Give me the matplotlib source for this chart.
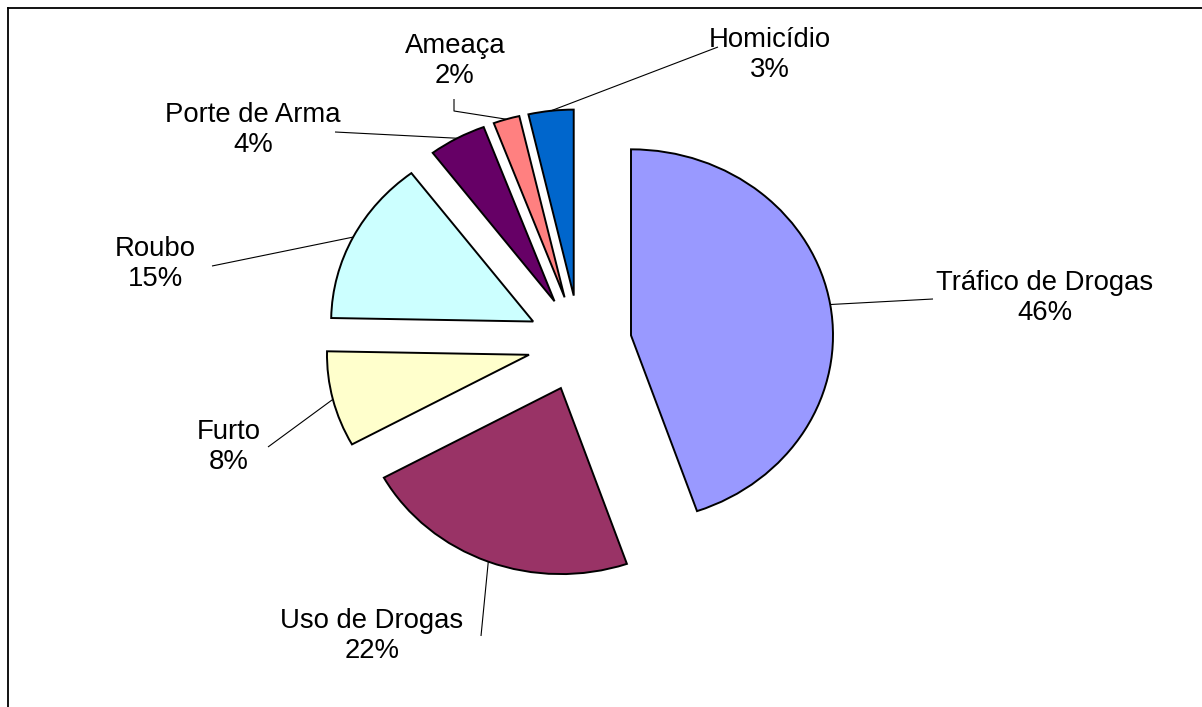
import matplotlib
matplotlib.use("Agg")
import matplotlib.pyplot as plt
from matplotlib.lines import Line2D
import numpy as np

# ---- data ----
categories = ["Tráfico de Drogas", "Uso de Drogas", "Furto", "Roubo",
              "Porte de Arma", "Ameaça", "Homicídio"]
shares = [44.7, 22.3, 8.3, 14.4, 4.6, 2.1, 3.6]      # wedge sizes as drawn
pct_labels = [46, 22, 8, 15, 4, 2, 3]                # percentages printed
colors = ["#9999FF", "#993366", "#FFFFCC", "#CCFFFF",
          "#660066", "#FF8080", "#0066CC"]

# ---- layout ----
W, H = 1202, 707
fig = plt.figure(figsize=(W / 100, H / 100), dpi=100)
ax = fig.add_axes([0, 0, 1, 1])
cx, cy = 579.6, 343.3     # pie centre in pixels (from top-left)
rx, ry = 202.0, 186.0     # pixel radii (pie is slightly stretched)

wedges, _ = ax.pie(shares, colors=colors, startangle=90, counterclock=False,
                   explode=[0.258] * len(shares),
                   wedgeprops=dict(edgecolor="black", linewidth=1.4))
ax.set_aspect("auto")
ax.set_xlim(-cx / rx, (W - cx) / rx)
ax.set_ylim(-(H - cy) / ry, cy / ry)
ax.axis("off")


def px(x, y):
    return ((x - cx) / rx, (cy - y) / ry)


# label centre (pixels) and leader-line path end points (pixels)
label_pos = [(1045, 298), (372, 636), (229, 447), (155, 264),
             (253, 130), (455, 61), (770, 55)]
leader_pts = [[(933, 299)], [(481, 636)], [(268, 447)], [(212, 266)],
              [(335, 132)], [(454, 111), (454, 99)], [(718, 47)]]

font = ["Liberation Sans", "DejaVu Sans"]
for w, name, pct, (lx, ly), pts in zip(wedges, categories, pct_labels,
                                       label_pos, leader_pts):
    mid = np.deg2rad((w.theta1 + w.theta2) / 2)
    sx = w.center[0] + w.r * np.cos(mid)
    sy = w.center[1] + w.r * np.sin(mid)
    xs = [sx] + [px(*p)[0] for p in pts]
    ys = [sy] + [px(*p)[1] for p in pts]
    ax.plot(xs, ys, color="black", linewidth=0.8, solid_capstyle="butt")
    tx, ty = px(lx, ly)
    ax.text(tx, ty, f"{name}\n{pct}%", ha="center", va="center",
            multialignment="center", fontsize=19.8, family=font,
            linespacing=1.2)

# outer frame
lw = 1.3
fig.add_artist(Line2D([7.5 / W, 7.5 / W], [0, 1 - 7.5 / H], color="black",
                      linewidth=lw, transform=fig.transFigure))
fig.add_artist(Line2D([7.5 / W, 1], [1 - 7.5 / H, 1 - 7.5 / H], color="black",
                      linewidth=lw, transform=fig.transFigure))

fig.savefig("out.png", dpi=100, facecolor="white")
